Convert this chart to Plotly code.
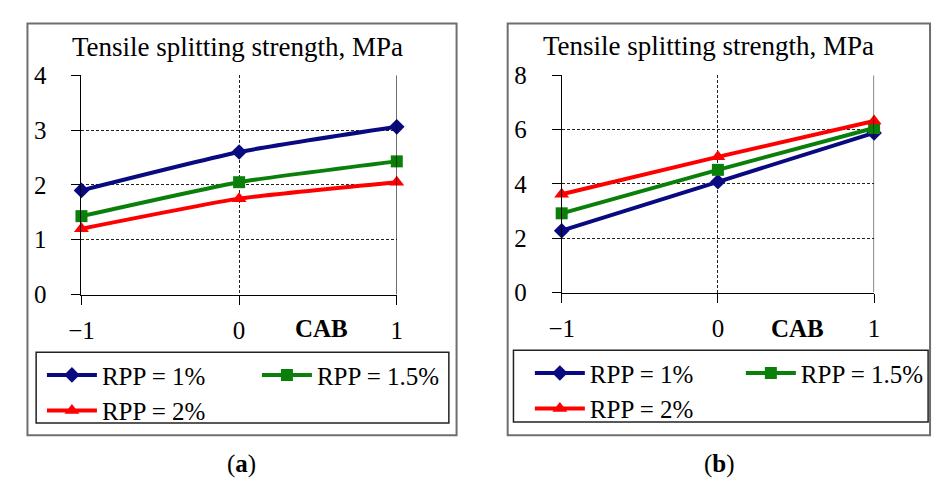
import plotly.graph_objects as go

# CAB coded levels on the horizontal axis
cab_levels = [-1, 0, 1]

# Tensile splitting strength (MPa), panel (a)
a_rpp_1 = [1.90, 2.60, 3.06]
a_rpp_15 = [1.43, 2.05, 2.43]
a_rpp_2 = [1.20, 1.75, 2.05]

# Tensile splitting strength (MPa), panel (b)
b_rpp_1 = [2.28, 4.08, 5.88]
b_rpp_15 = [2.92, 4.52, 6.06]
b_rpp_2 = [3.62, 5.00, 6.32]

series_names = ["RPP = 1%", "RPP = 1.5%", "RPP = 2%"]
a_y_ticks = [0, 1, 2, 3, 4]
b_y_ticks = [0, 2, 4, 6, 8]

W, H = 952, 488
FONT = "Liberation Serif"

def px(x):
    return x / W

def py(y):
    return 1 - y / H

styles = [
    dict(color="#0a0a80", symbol="diamond", size=12),
    dict(color="#0a800a", symbol="square", size=12),
    dict(color="#ff0000", symbol="triangle-up", size=13),
]

fig = go.Figure()

panels = [
    ("x", "y", "legend", [a_rpp_1, a_rpp_15, a_rpp_2], "a"),
    ("x2", "y2", "legend2", [b_rpp_1, b_rpp_15, b_rpp_2], "b"),
]
for xa, ya, leg, data, tag in panels:
    for i, (name, vals, st) in enumerate(zip(series_names, data, styles)):
        fig.add_trace(go.Scatter(
            x=cab_levels, y=vals, name=name,
            xaxis=xa, yaxis=ya, legend=leg,
            legendgroup=tag + ("g2" if i == 1 else "g1"),
            mode="lines+markers",
            line=dict(color=st["color"], width=4, shape="spline", smoothing=0.5),
            marker=dict(color=st["color"], symbol=st["symbol"], size=st["size"]),
            cliponaxis=False,
        ))

grid = dict(gridcolor="#222222", gridwidth=1, griddash="3px,2px")
common_x = dict(range=[-1, 1], tickvals=cab_levels, showline=True, linecolor="#000000",
                linewidth=1, ticks="outside", ticklen=9, tickcolor="#000000",
                zeroline=False, showgrid=True, ticklabelstandoff=4,
                tickfont=dict(family=FONT, size=25, color="#000000"), **grid)
common_y = dict(showline=True, linecolor="#000000", linewidth=1, ticks="outside",
                ticklen=9, tickcolor="#000000", zeroline=False, showgrid=True,
                ticklabelstandoff=20,
                tickfont=dict(family=FONT, size=25, color="#000000"), **grid)

fig.update_layout(
    width=W, height=H,
    margin=dict(l=0, r=0, t=0, b=0),
    paper_bgcolor="white", plot_bgcolor="white",
    showlegend=True,
    xaxis=dict(domain=[px(71), px(398)], anchor="y", **common_x),
    yaxis=dict(domain=[py(298), py(66)], anchor="x", range=[0, 4], tickvals=a_y_ticks, **common_y),
    xaxis2=dict(domain=[px(569), px(893)], anchor="y2", **common_x),
    yaxis2=dict(domain=[py(296), py(66)], anchor="x2", range=[0, 8], tickvals=b_y_ticks, **common_y),
)

leg_common = dict(orientation="h", traceorder="grouped", xanchor="left", yanchor="top",
                  bgcolor="rgba(0,0,0,0)", borderwidth=0, itemwidth=50,
                  font=dict(family=FONT, size=25, color="#000000"), itemclick=False)
fig.update_layout(
    legend=dict(x=px(30), y=py(359), entrywidth=150, **leg_common),
    legend2=dict(x=px(536), y=py(357), entrywidth=146, **leg_common),
)

shapes = []
# outer panel frames
for x0, x1, y0, y1 in [(15, 460, 11, 447), (513, 951, 11, 447)]:
    shapes.append(dict(type="rect", xref="paper", yref="paper",
                       x0=px(x0), x1=px(x1), y0=py(y1), y1=py(y0),
                       line=dict(color="#6e6e6e", width=2), layer="below"))
# legend boxes
for x0, x1, y0, y1 in [(24, 452, 359, 434), (519, 949, 357, 433)]:
    shapes.append(dict(type="rect", xref="paper", yref="paper",
                       x0=px(x0), x1=px(x1), y0=py(y1), y1=py(y0),
                       line=dict(color="#222222", width=1.5), layer="below"))
# solid right border of each plot area
for xr, yr, top in [("x", "y", a_y_ticks[-1]), ("x2", "y2", b_y_ticks[-1])]:
    shapes.append(dict(type="line", xref=xr, yref=yr, x0=cab_levels[-1], x1=cab_levels[-1],
                       y0=0, y1=top, line=dict(color="#000000", width=1)))
fig.update_layout(shapes=shapes)

annotations = []
for cx, cy in [(233, 36), (721, 35)]:
    annotations.append(dict(text="Tensile splitting strength, MPa", x=px(cx), y=py(cy),
                            xref="paper", yref="paper", showarrow=False,
                            xanchor="center", yanchor="middle",
                            font=dict(family=FONT, size=27, color="#000000")))
for cx, cy in [(320, 334), (814, 334)]:
    annotations.append(dict(text="<b>CAB</b>", x=px(cx), y=py(cy),
                            xref="paper", yref="paper", showarrow=False,
                            xanchor="center", yanchor="middle",
                            font=dict(family=FONT, size=25, color="#000000")))
for lab, cx in [("a", 237), ("b", 733)]:
    annotations.append(dict(text="(<b>" + lab + "</b>)", x=px(cx), y=py(477),
                            xref="paper", yref="paper", showarrow=False,
                            xanchor="center", yanchor="middle",
                            font=dict(family=FONT, size=25, color="#000000")))
fig.update_layout(annotations=annotations)

fig.write_html("out.html")
